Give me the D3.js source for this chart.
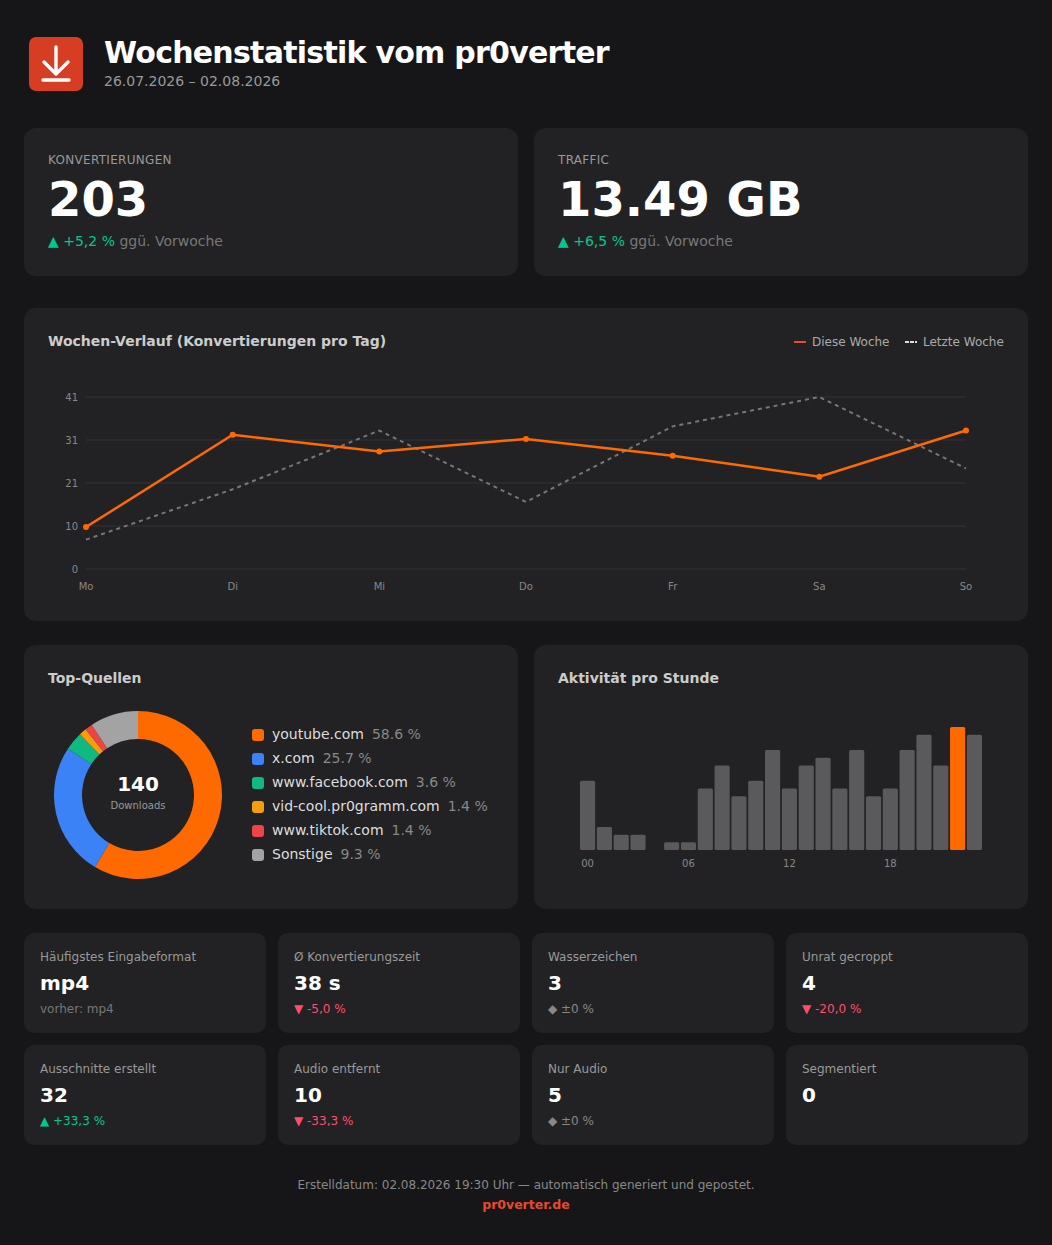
<!DOCTYPE html>
<html lang="de">
<head>
<meta charset="utf-8">
<title>Wochenstatistik vom pr0verter</title>
<script src="https://cdn.jsdelivr.net/npm/d3@7"></script>
<style>
  html, body { margin: 0; padding: 0; background: #161618; }
  svg { display: block; font-family: "DejaVu Sans", sans-serif; }
  .axis .domain { display: none; }
</style>
</head>
<body>
<svg class="chart" width="1052" height="1245"></svg>
<script>
// Daten
const days = ["Mo", "Di", "Mi", "Do", "Fr", "Sa", "So"]
const thisWeek = [10, 32, 28, 31, 27, 22, 33]
const lastWeek = [7, 19, 33, 16, 34, 41, 24]
const yTicks = [0, 10.25, 20.5, 30.75, 41]

const sources = ["youtube.com", "x.com", "www.facebook.com", "vid-cool.pr0gramm.com", "www.tiktok.com", "Sonstige"]
const sourceCounts = [82, 36, 5, 2, 2, 13]
const sourcePct = ["58.6 %", "25.7 %", "3.6 %", "1.4 %", "1.4 %", "9.3 %"]
const sourceColors = ["#ff6a00", "#3b82f6", "#10b981", "#f59e0b", "#ef4444", "#a3a3a3"]

const hourly = [9, 3, 2, 2, 0, 1, 1, 8, 11, 7, 9, 13, 8, 11, 12, 8, 13, 7, 8, 13, 15, 11, 16, 15]
const hourTicks = [0, 6, 12, 18]

const statLabels = ["Häufigstes Eingabeformat", "Ø Konvertierungszeit", "Wasserzeichen", "Unrat gecroppt",
  "Ausschnitte erstellt", "Audio entfernt", "Nur Audio", "Segmentiert"]
const statValues = ["mp4", "38 s", "3", "4", "32", "10", "5", "0"]
const statNotes = ["vorher: mp4", "▼ -5,0 %", "◆ ±0 %", "▼ -20,0 %", "▲ +33,3 %", "▼ -33,3 %", "◆ ±0 %", ""]

const green = "#00c98d", red = "#ff4d6d", orange = "#ff6a00", brand = "#e8492a"
const fontName = '"DejaVu Sans", sans-serif'

const svg = d3.select(".chart")

function card(x, y, w, h, r) {
  svg.append("rect").attr("x", x).attr("y", y).attr("width", w).attr("height", h)
    .attr("rx", r).attr("fill", "#222224")
}

function label(x, y, str, size, fill, weight) {
  return svg.append("text").attr("x", x).attr("y", y).text(str)
    .attr("font-size", size).attr("fill", fill).attr("font-weight", weight || "normal")
}

// Kopf
svg.append("rect").attr("x", 29).attr("y", 37).attr("width", 54).attr("height", 54).attr("rx", 7).attr("fill", "#d63d22")
svg.append("path").attr("d", "M56 47V73M44 62L56 74L68 62M43 80H69")
  .attr("fill", "none").attr("stroke", "#fff").attr("stroke-width", 3.4).attr("stroke-linecap", "round").attr("stroke-linejoin", "round")
label(104, 63, "Wochenstatistik vom pr0verter", 30, "#fff", "bold").attr("letter-spacing", -0.75)
label(104, 86, "26.07.2026 – 02.08.2026", 14, "#999")

// Grosse Karten
function bigCard(x, title, value, delta) {
  card(x, 128, 494, 148, 12)
  label(x + 24, 164, title, 12, "#999").attr("letter-spacing", 0.3)
  label(x + 24, 216, value, 48, "#fff", "bold")
  const t = label(x + 24, 246, "", 14, green)
  t.append("tspan").text("▲ " + delta)
  t.append("tspan").attr("fill", "#777").text(" ggü. Vorwoche")
}
bigCard(24, "KONVERTIERUNGEN", "203", "+5,2 %")
bigCard(534, "TRAFFIC", "13.49 GB", "+6,5 %")

// Wochen-Verlauf
card(24, 308, 1004, 313, 12)
label(48, 346, "Wochen-Verlauf (Konvertierungen pro Tag)", 14, "#ccc", "bold")

svg.append("line").attr("x1", 794).attr("x2", 806).attr("y1", 342).attr("y2", 342).attr("stroke", brand).attr("stroke-width", 2)
label(812, 346, "Diese Woche", 12, "#aaa")
svg.append("line").attr("x1", 905).attr("x2", 917).attr("y1", 342).attr("y2", 342).attr("stroke", "#ddd").attr("stroke-width", 2).attr("stroke-dasharray", "4 1")
label(923, 346, "Letzte Woche", 12, "#aaa")

const x = d3.scalePoint().domain(days).range([86, 966])
const y = d3.scaleLinear().domain([0, 41]).range([569, 397])

const yAxis = svg.append("g").attr("class", "axis").attr("transform", "translate(86,0)")
  .call(d3.axisLeft(y).offset(0).tickValues(yTicks).tickFormat(d => Math.round(d)).tickSize(-880).tickPadding(8))
  .attr("font-family", fontName)
yAxis.selectAll("line").attr("stroke", "#323234")
yAxis.selectAll("text").attr("fill", "#888").attr("font-size", 10).attr("dy", "0.42em")

const xAxis = svg.append("g").attr("class", "axis").attr("transform", "translate(0,569)")
  .call(d3.axisBottom(x).offset(0).tickSize(0).tickPadding(14))
  .attr("font-family", fontName)
xAxis.selectAll("text").attr("fill", "#888").attr("font-size", 10)

const line = d3.line().x((d, i) => x(days[i])).y(d => y(d))

svg.append("path").attr("d", line(lastWeek)).attr("fill", "none")
  .attr("stroke", "#777").attr("stroke-width", 2).attr("stroke-dasharray", "4 4")
svg.append("path").attr("d", line(thisWeek)).attr("fill", "none")
  .attr("stroke", orange).attr("stroke-width", 2.5)
svg.selectAll(".dot").data(thisWeek).join("circle").attr("class", "dot")
  .attr("cx", (d, i) => x(days[i])).attr("cy", d => y(d)).attr("r", 3).attr("fill", orange)

// Top-Quellen
card(24, 645, 494, 264, 12)
label(48, 683, "Top-Quellen", 14, "#ccc", "bold")

const pie = d3.pie().sort(null)
const arc = d3.arc().innerRadius(56).outerRadius(84)
svg.append("g").attr("transform", "translate(138,795)")
  .selectAll("path").data(pie(sourceCounts)).join("path")
  .attr("d", arc).attr("fill", (d, i) => sourceColors[i])
label(138, 791, "140", 20, "#fff", "bold").attr("text-anchor", "middle")
label(138, 809, "Downloads", 10, "#999").attr("text-anchor", "middle")

sources.forEach((s, i) => {
  const cy = 735 + i * 24
  svg.append("rect").attr("x", 252).attr("y", cy - 6).attr("width", 12).attr("height", 12).attr("rx", 3).attr("fill", sourceColors[i])
  const t = label(272, cy + 4, "", 14, "#ddd")
  t.append("tspan").text(s)
  t.append("tspan").attr("dx", 8).attr("fill", "#888").text(sourcePct[i])
})

// Aktivitaet pro Stunde
card(534, 645, 494, 264, 12)
label(558, 683, "Aktivität pro Stunde", 14, "#ccc", "bold")

const hx = d3.scaleBand().domain(d3.range(24)).range([580, 982]).paddingInner(0.1)
const hy = d3.scaleLinear().domain([0, 16]).range([850, 727])
const peak = d3.max(hourly)

svg.selectAll(".hour").data(hourly).join("rect").attr("class", "hour")
  .attr("x", (d, i) => hx(i)).attr("y", d => hy(d))
  .attr("width", hx.bandwidth()).attr("height", d => 850 - hy(d))
  .attr("rx", 1.5).attr("fill", d => d === peak ? orange : "#5a5a5c")

hourTicks.forEach(h => {
  label(hx(h) + hx.bandwidth() / 2, 867, d3.format("02")(h), 10, "#888").attr("text-anchor", "middle")
})

// Kleine Karten
const cols = [24, 278, 532, 786]
statLabels.forEach((s, i) => {
  const cx = cols[i % 4], top = i < 4 ? 933 : 1045
  card(cx, top, 242, 100, 10)
  label(cx + 16, top + 28, s, 12, "#999")
  label(cx + 16, top + 57, statValues[i], 20, "#fff", "bold")
  const note = statNotes[i]
  const col = note[0] === "▲" ? green : note[0] === "▼" ? red : note[0] === "◆" ? "#888" : "#777"
  label(cx + 16, top + 80, note, 12, col)
})

// Fuss
label(526, 1189, "Erstelldatum: 02.08.2026 19:30 Uhr — automatisch generiert und gepostet.", 12, "#888").attr("text-anchor", "middle")
label(526, 1209, "pr0verter.de", 12.5, brand, "bold").attr("text-anchor", "middle")
</script>
</body>
</html>
